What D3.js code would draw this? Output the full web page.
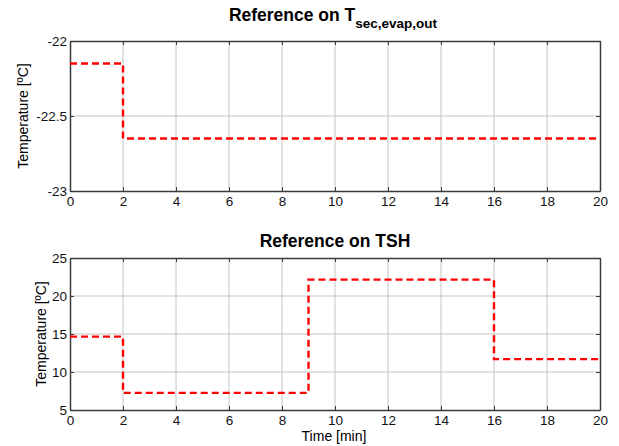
<!DOCTYPE html>
<html>
<head>
<meta charset="utf-8">
<script src="https://cdn.jsdelivr.net/npm/d3@7"></script>
<style>
  body { margin: 0; background: #fff; }
  svg text { font-family: "Liberation Sans", Arial, sans-serif; }
</style>
</head>
<body>
<svg id="chart" width="619" height="446"></svg>
<script>
// step references: time [min] where each level starts, and the level
const timeTop = [0, 2, 20];
const refTop = [-22.15, -22.65, -22.65];
const timeBottom = [0, 2, 9, 16, 20];
const refBottom = [14.65, 7.25, 22.15, 11.7, 11.7];

const xTicks = [0, 2, 4, 6, 8, 10, 12, 14, 16, 18, 20];
const yTicksTop = [-23, -22.5, -22];
const yTicksBottom = [5, 10, 15, 20, 25];

const svg = d3.select("#chart");

// plain hyphen for negatives, like matlab
const plain = d => String(d);

function drawPanel(opts) {
  const x = d3.scaleLinear().domain([0, 20]).range([70, 600]);
  const y = d3.scaleLinear().domain(opts.yDomain).range([opts.bottom, opts.top]);
  const g = svg.append("g");

  // grid
  g.selectAll(".vgrid").data(xTicks.slice(1, -1)).enter().append("line")
    .attr("x1", d => x(d)).attr("x2", d => x(d))
    .attr("y1", opts.top).attr("y2", opts.bottom)
    .style("stroke", "#c4c4c4").style("stroke-width", 1);
  g.selectAll(".hgrid").data(opts.yTicks.slice(1, -1)).enter().append("line")
    .attr("x1", 70).attr("x2", 600)
    .attr("y1", d => y(d)).attr("y2", d => y(d))
    .style("stroke", "#c4c4c4").style("stroke-width", 1);

  // axes with inward ticks
  const ax = (gen, tr) => g.append("g").attr("transform", tr).call(gen);
  const style = sel => {
    sel.select(".domain").style("stroke", "#3a3a3a").style("stroke-width", 1.5);
    sel.selectAll(".tick line").style("stroke", "#3a3a3a");
    sel.selectAll("text").style("font-size", "13.5px").style("fill", "#111");
  };
  style(ax(d3.axisBottom(x).tickValues(xTicks).tickSize(-4).tickSizeOuter(0)
    .tickPadding(5).tickFormat(plain), `translate(0,${opts.bottom})`));
  style(ax(d3.axisLeft(y).tickValues(opts.yTicks).tickSize(-4).tickSizeOuter(0)
    .tickPadding(3).tickFormat(plain), "translate(70,0)"));
  style(ax(d3.axisTop(x).tickValues(xTicks).tickSize(-4).tickSizeOuter(0)
    .tickFormat(""), `translate(0,${opts.top})`));
  style(ax(d3.axisRight(y).tickValues(opts.yTicks).tickSize(-4).tickSizeOuter(0)
    .tickFormat(""), "translate(600,0)"));

  // step line
  const line = d3.line().x(d => x(d[0])).y(d => y(d[1])).curve(d3.curveStepAfter);
  g.append("path")
    .datum(opts.time.map((t, i) => [t, opts.values[i]]))
    .attr("d", line)
    .style("fill", "none")
    .style("stroke", "#ff0000")
    .style("stroke-width", 2.4)
    .style("stroke-dasharray", "7,4");

  // y label
  g.append("text")
    .attr("transform", `translate(${opts.labelX},${(opts.top + opts.bottom) / 2}) rotate(-90)`)
    .attr("text-anchor", "middle")
    .style("font-size", "14px")
    .text("Temperature [ºC]");
}

drawPanel({ top: 41, bottom: 191, yDomain: [-23, -22], yTicks: yTicksTop,
  time: timeTop, values: refTop, labelX: 28 });
drawPanel({ top: 258, bottom: 410, yDomain: [5, 25], yTicks: yTicksBottom,
  time: timeBottom, values: refBottom, labelX: 46 });

// titles
const t1 = svg.append("text").attr("x", 333).attr("y", 21).attr("text-anchor", "middle")
  .style("font-size", "17.5px").style("font-weight", "bold");
t1.append("tspan").text("Reference on T");
t1.append("tspan").attr("dy", 7).style("font-size", "13.5px").text("sec,evap,out");

svg.append("text").attr("x", 335).attr("y", 247).attr("text-anchor", "middle")
  .style("font-size", "17.5px").style("font-weight", "bold").text("Reference on TSH");

svg.append("text").attr("x", 334).attr("y", 441).attr("text-anchor", "middle")
  .style("font-size", "14px").text("Time [min]");
</script>
</body>
</html>
